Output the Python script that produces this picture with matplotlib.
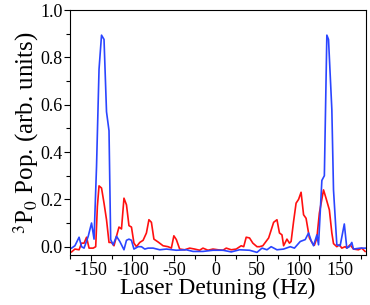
import matplotlib
matplotlib.use("Agg")
import matplotlib.pyplot as plt
from matplotlib.ticker import MultipleLocator

plt.rcParams['font.family'] = ['Liberation Serif', 'DejaVu Serif']
plt.rcParams['mathtext.fontset'] = 'stix'
plt.rcParams['axes.unicode_minus'] = False

# blue trace
blue_hz = [-173, -169, -164, -161, -158, -153, -149, -146, -143, -140, -137, -134,
           -131, -128, -126, -123, -119, -115, -110, -107, -104, -101, -98, -93,
           -89, -85, -81, -75, -67, -59, -47, -35, -27, -15, -3, 9, 19, 29, 41,
           50, 56, 62, 67, 74, 82, 90, 95, 102, 108, 112, 115, 118, 122, 124,
           128, 131, 134, 136, 140, 142, 146, 150, 155, 158, 161, 164, 166, 174, 181]
blue_pop = [-0.006, 0.004, 0.04, 0.0, -0.006, 0.044, 0.1, 0.032, 0.34, 0.75, 0.894, 0.876,
            0.57, 0.49, 0.03, 0.008, 0.044, 0.022, -0.013, 0.027, 0.032, 0.027, -0.01, 0.0,
            0.0, -0.01, -0.006, -0.006, -0.013, -0.01, -0.015, -0.013, -0.02, -0.02, -0.015,
            -0.015, -0.022, -0.013, -0.015, -0.024, -0.006, -0.013, 0.0, -0.013, -0.01, 0.0,
            -0.006, 0.022, 0.03, 0.058, 0.027, 0.004, 0.05, 0.008, 0.28, 0.3, 0.894, 0.876,
            0.58, 0.24, 0.008, 0.004, 0.096, -0.006, 0.0, 0.018, -0.01, -0.006, -0.006]

# red trace
red_hz = [-173, -169, -164, -161, -158, -155, -152, -147, -144, -142, -140, -137, -134,
          -131, -128, -125, -122, -119, -116, -113, -110, -107, -104, -101, -98, -95,
          -91, -87, -83, -80, -77, -74, -69, -63, -57, -53, -50, -47, -43, -37, -31,
          -25, -19, -15, -9, -3, 3, 9, 13, 19, 25, 31, 34, 37, 41, 45, 50, 53, 57,
          64, 70, 74, 77, 80, 82, 86, 89, 91, 94, 97, 100, 103, 106, 109, 113, 116,
          119, 122, 125, 130, 133, 137, 140, 142, 146, 149, 152, 156, 158, 162, 166,
          172, 176, 180]
red_pop = [-0.022, -0.01, -0.013, 0.015, 0.015, 0.04, -0.006, -0.006, 0.0, 0.17, 0.257, 0.248, 0.184,
           0.114, 0.018, 0.018, 0.004, 0.044, 0.083, 0.075, 0.205, 0.177, 0.089, 0.083, 0.015, 0.0,
           0.018, 0.027, 0.058, 0.114, 0.103, 0.032, 0.02, 0.004, 0.0, -0.006, 0.046, 0.03, -0.01,
           -0.013, -0.006, -0.01, -0.015, -0.006, -0.015, -0.01, -0.013, -0.015, -0.006, -0.013,
           -0.01, 0.004, 0.0, 0.04, 0.037, 0.015, 0.0, 0.0, 0.004, 0.037, 0.103, 0.114, 0.058,
           0.05, 0.004, 0.032, 0.015, 0.022, 0.107, 0.184, 0.2, 0.23, 0.135, 0.12, 0.037, 0.018,
           0.006, 0.037, 0.142, 0.24, 0.205, 0.156, 0.058, 0.013, 0.0, 0.008, -0.006, 0.0, -0.006,
           0.008, -0.01, -0.013, -0.006, -0.02]

fig = plt.figure(figsize=(3.7, 3.05), dpi=100)
ax = fig.add_axes([0.189, 0.164, 0.8, 0.803])

ax.plot(red_hz, red_pop, color='#ff1010', lw=1.2)
ax.plot(blue_hz, blue_pop, color='#2a45ff', lw=1.2)

ax.set_xlim(-175, 181)
ax.set_ylim(-0.035, 1.0)
ax.xaxis.set_major_locator(MultipleLocator(50))
ax.xaxis.set_minor_locator(MultipleLocator(25))
ax.yaxis.set_major_locator(MultipleLocator(0.2))
ax.yaxis.set_minor_locator(MultipleLocator(0.1))
ax.yaxis.set_major_formatter(plt.FuncFormatter(lambda v, p: f"{v:.1f}"))
ax.tick_params(which='both', direction='out', top=False, right=False, labelsize=13, pad=1)
ax.tick_params(which='major', length=4, width=0.8)
ax.tick_params(which='minor', length=3, width=0.8)

ax.set_xlabel("Laser Detuning (Hz)", fontsize=17, labelpad=-1)
ax.set_ylabel("$^3$P$_0$ Pop. (arb. units)", fontsize=18, labelpad=0)

fig.savefig("out.png", dpi=100)
